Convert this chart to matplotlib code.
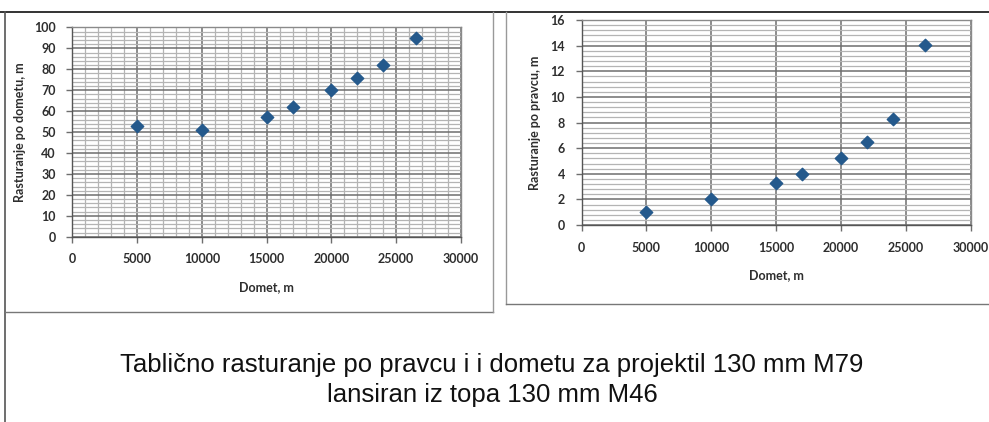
import numpy as np
import matplotlib.pyplot as plt
from matplotlib.lines import Line2D
from matplotlib.ticker import MultipleLocator

# domet (m) and dispersion values
domet = [5000, 10000, 15000, 17000, 20000, 22000, 24000, 26500]
rast_domet = [53, 51, 57, 62, 70, 76, 82, 95]
rast_pravac = [1.05, 2.05, 3.3, 4.0, 5.25, 6.45, 8.25, 14.05]

title_lines = ['Tablično rasturanje po pravcu i i dometu za projektil 130 mm M79',
               'lansiran iz topa 130 mm M46']

plt.rcParams['font.family'] = ['Lato', 'DejaVu Sans']
marker_color = '#24598C'
major_c = '#6e6e6e'
minor_c = '#b4b4b4'
text_c = '#2e2e2e'

fig = plt.figure(figsize=(9.89, 4.22), dpi=100)


def style_axes(ax, ymax, ymajor, yminor, xminor):
    ax.set_xlim(0, 30000)
    ax.set_ylim(0, ymax)
    ax.xaxis.set_major_locator(MultipleLocator(5000))
    ax.yaxis.set_major_locator(MultipleLocator(ymajor))
    ax.yaxis.set_minor_locator(MultipleLocator(yminor))
    if xminor:
        ax.xaxis.set_minor_locator(MultipleLocator(xminor))
        ax.grid(True, which='minor', axis='x', color=minor_c, lw=0.9)
    ax.grid(True, which='minor', axis='y', color=minor_c, lw=0.9)
    ax.grid(True, which='major', color=major_c, lw=1.1)
    ax.set_axisbelow(True)
    ax.tick_params(which='minor', length=0)
    ax.tick_params(which='major', length=4, width=1, color=major_c, direction='out', pad=8)
    for lab in ax.get_xticklabels() + ax.get_yticklabels():
        lab.set_fontsize(9)
        lab.set_fontweight('bold')
        lab.set_color(text_c)
    for s in ax.spines.values():
        s.set_color('#8a8a8a')
        s.set_linewidth(1.0)
    ax.spines['left'].set_color('#555555')
    ax.spines['bottom'].set_color('#555555')


# left chart
ax1 = fig.add_axes([0.0731, 0.439, 0.393, 0.496])
ax1.scatter(domet, rast_domet, marker='D', s=40, color=marker_color, zorder=3)
style_axes(ax1, 100, 10, 2, 1000)
ax1.set_xlabel('Domet, m', fontsize=9, fontweight='bold', color=text_c, labelpad=11)
ax1.set_ylabel('Rasturanje po dometu, m', fontsize=9, fontweight='bold', color=text_c, labelpad=6)

# right chart
ax2 = fig.add_axes([0.588, 0.4668, 0.3936, 0.4858])
ax2.scatter(domet, rast_pravac, marker='D', s=40, color=marker_color, zorder=3)
style_axes(ax2, 16, 2, 0.4, None)
ax2.set_xlabel('Domet, m', fontsize=9, fontweight='bold', color=text_c, labelpad=11)
ax2.set_ylabel('Rasturanje po pravcu, m', fontsize=9, fontweight='bold', color=text_c, labelpad=7)

# panel frames
W, H = 989.0, 422.0
def fline(x0, y0, x1, y1, c='#444444', lw=1.2):
    fig.add_artist(Line2D([x0 / W, x1 / W], [1 - y0 / H, 1 - y1 / H], color=c, lw=lw))

fline(0, 12, 989, 12, '#333333', 1.4)
fline(5, 12, 5, 422, '#555555', 1.2)
fline(5, 312, 493, 312, '#777777', 1.0)
fline(493, 12, 493, 312, '#999999', 1.0)
fline(506, 12, 506, 304, '#999999', 1.0)
fline(506, 304, 989, 304, '#777777', 1.0)

for txt, base_y in zip(title_lines, [372, 402]):
    fig.text(0.4975, 1 - base_y / H, txt, ha='center', va='baseline',
             fontsize=18.5, family=['Liberation Sans', 'DejaVu Sans'], color='#111111')

fig.savefig('out.png', dpi=100)
